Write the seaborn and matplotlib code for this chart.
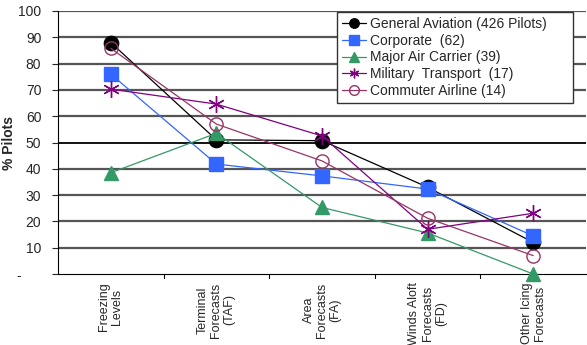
import matplotlib
matplotlib.use("Agg")
import matplotlib.pyplot as plt
import seaborn as sns
import pandas as pd
import numpy as np

categories = ["Freezing\nLevels", "Terminal\nForecasts\n(TAF)", "Area\nForecasts\n(FA)",
              "Winds Aloft\nForecasts\n(FD)", "Other Icing\nForecasts"]
general_aviation = [88, 51, 50.7, 33, 12]
corporate = [76, 41.8, 37.3, 32.3, 14.5]
major_air_carrier = [38.5, 53.5, 25.3, 15.6, 0]
military_transport = [70.3, 64.6, 52.5, 17, 23.1]
commuter_airline = [85.8, 57, 43, 21.2, 7]
series_names = ["General Aviation (426 Pilots)", "Corporate  (62)", "Major Air Carrier (39)",
                "Military  Transport  (17)", "Commuter Airline (14)"]
y_ticks = [0, 10, 20, 30, 40, 50, 60, 70, 80, 90, 100]
y_tick_labels = ["-     ", "10", "20", "30", "40", "50", "60", "70", "80", "90", "100"]

all_vals = [general_aviation, corporate, major_air_carrier, military_transport, commuter_airline]
rows = []
for name, vals in zip(series_names, all_vals):
    for i, v in enumerate(vals):
        rows.append({"x": i, "y": v, "series": name})
df = pd.DataFrame(rows)

sns.set_style("white")
plt.rcParams["font.family"] = ["Liberation Sans", "DejaVu Sans"]

colors = ["#000000", "#3366FF", "#339966", "#800080", "#993366"]
markers = dict(zip(series_names, ["o", "s", "^", (6, 2, 0), "o"]))

fig = plt.figure(figsize=(5.87, 3.45), dpi=100)
ax = fig.add_axes([58 / 587, 71 / 345, 528 / 587, 263 / 345])

for y in y_ticks[1:]:
    ax.axhline(y, color="#000000" if y == 50 else "#555555", lw=1.3 if y == 50 else 1.6, zorder=0)

sizes = [10.5, 9.5, 9.5, 12, 9.5]
for name, c, s in zip(series_names, colors, sizes):
    sub = df[df["series"] == name]
    hollow = name.startswith("Commuter")
    sns.lineplot(data=sub, x="x", y="y", ax=ax, color=c, lw=0.9,
                 marker=markers[name], markersize=s,
                 markerfacecolor="none" if hollow else c,
                 markeredgecolor=c, markeredgewidth=1.0 if hollow or markers[name] != "o" else 0.8,
                 label=name, zorder=3, clip_on=False)

ax.set_xlim(-0.5, 4.5)
ax.set_ylim(0, 100)
ax.set_yticks(y_ticks)
ax.set_yticklabels(y_tick_labels, fontsize=10)
ax.set_xticks(range(5))
ax.set_xticklabels(categories, rotation=90, fontsize=9, va="top", ha="center", linespacing=1.15)
ax.tick_params(axis="x", length=0, pad=6)
for b in [0.5, 1.5, 2.5, 3.5]:
    ax.plot([b, b], [0, -1.5], color="black", lw=0.8, clip_on=False, transform=ax.transData)
ax.tick_params(axis="y", length=4, width=0.8, left=True, direction="out", pad=8)
ax.set_xlabel("")
ax.set_ylabel("% Pilots", fontsize=10, fontweight="bold")
ax.yaxis.set_label_coords((16 - 58) / 528, 0.5)
for sp in ["top", "right"]:
    ax.spines[sp].set_visible(False)
ax.spines["left"].set_color("black")
ax.spines["bottom"].set_color("black")
ax.spines["left"].set_linewidth(0.8)
ax.spines["bottom"].set_linewidth(0.8)

leg = ax.legend(loc="upper left", bbox_to_anchor=((337 - 58) / 528, 0, (573 - 337) / 528, 0.996),
                mode="expand", frameon=True, fancybox=False,
                fontsize=10, handlelength=1.75, borderpad=0.35, labelspacing=0.2,
                handletextpad=0.3, borderaxespad=0.0, framealpha=1)
leg.get_frame().set_edgecolor("#333333")
leg.get_frame().set_linewidth(1.0)
for h in leg.legend_handles:
    h.set_markersize(7)

fig.savefig("out.png", dpi=100)
